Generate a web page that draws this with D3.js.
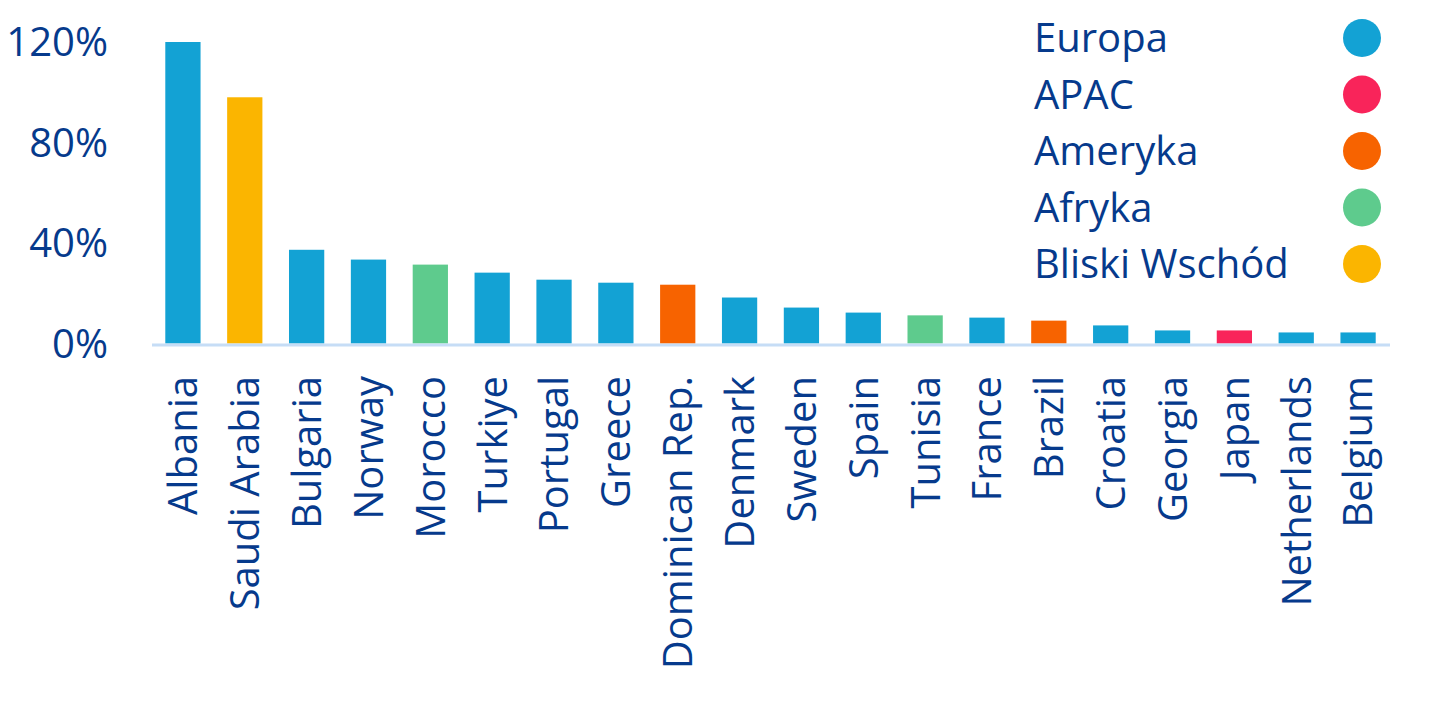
<!DOCTYPE html>
<head>
    <meta charset="utf-8">
    <title>Bar chart by country</title>
    <style>
        body { margin: 0; background: #fff; }
        text { font-family: "Open Sans", sans-serif; fill: #063a8c; }
    </style>
</head>
<body>

<svg width="1429" height="715"></svg>

<script src="https://d3js.org/d3.v7.min.js"></script>

<script>

    // data
    const countries = ["Albania", "Saudi Arabia", "Bulgaria", "Norway", "Morocco", "Turkiye",
        "Portugal", "Greece", "Dominican Rep.", "Denmark", "Sweden", "Spain", "Tunisia",
        "France", "Brazil", "Croatia", "Georgia", "Japan", "Netherlands", "Belgium"];
    const values = [120, 98, 37.3, 33.4, 31.4, 28.2, 25.4, 24.2, 23.4, 18.3, 14.3, 12.3,
        11.2, 10.3, 9.1, 7.2, 5.2, 5.2, 4.4, 4.4];
    const regions = ["Europa", "Bliski Wschód", "Europa", "Europa", "Afryka", "Europa",
        "Europa", "Europa", "Ameryka", "Europa", "Europa", "Europa", "Afryka",
        "Europa", "Ameryka", "Europa", "Europa", "APAC", "Europa", "Europa"];
    const legendNames = ["Europa", "APAC", "Ameryka", "Afryka", "Bliski Wschód"];
    const legendColors = ["#13a2d4", "#f9245a", "#f76300", "#5ecb8d", "#fbb500"];
    const yTicks = [0, 40, 80, 120];

    const svg = d3.select("svg");

    const x = d3.scaleBand()
        .domain(countries)
        .range([152, 1389])
        .paddingInner(0.43)
        .paddingOuter(0.215);

    const y = d3.scaleLinear()
        .domain([0, 120])
        .range([343.5, 42]);

    const color = d3.scaleOrdinal(legendNames, legendColors);

    // bars
    svg.append("g")
        .selectAll("rect")
        .data(countries)
        .enter().append("rect")
            .attr("x", d => x(d))
            .attr("width", x.bandwidth())
            .attr("y", (d, i) => y(values[i]))
            .attr("height", (d, i) => y(0) - y(values[i]))
            .attr("fill", (d, i) => color(regions[i]));

    // baseline
    svg.append("line")
        .attr("x1", 152).attr("x2", 1390)
        .attr("y1", y(0) + 1.5).attr("y2", y(0) + 1.5)
        .attr("stroke", "#c6ddf6")
        .attr("stroke-width", 3);

    // y tick labels
    svg.append("g")
        .selectAll("text")
        .data(yTicks)
        .enter().append("text")
            .attr("x", 108)
            .attr("y", d => y(d))
            .attr("dy", "0.36em")
            .attr("text-anchor", "end")
            .style("font-size", "40px")
            .text(d => d + "%");

    // x labels, rotated
    svg.append("g")
        .selectAll("text")
        .data(countries)
        .enter().append("text")
            .attr("transform", d => "translate(" + (x(d) + x.bandwidth() / 2) + ",376) rotate(-90)")
            .attr("dy", "0.36em")
            .attr("text-anchor", "end")
            .style("font-size", "40px")
            .text(d => d);

    // legend
    const legend = svg.append("g")
        .selectAll("g")
        .data(legendNames)
        .enter().append("g")
            .attr("transform", (d, i) => "translate(0," + (38 + i * 56.5) + ")");

    legend.append("text")
        .attr("x", 1034)
        .attr("dy", "0.36em")
        .style("font-size", "40px")
        .text(d => d);

    legend.append("circle")
        .attr("cx", 1362)
        .attr("r", 19)
        .attr("fill", d => color(d));

</script>

</body>
